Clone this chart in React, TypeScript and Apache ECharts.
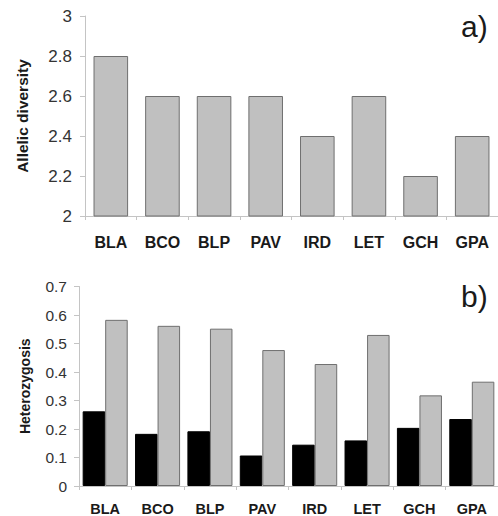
import React, { useEffect, useRef } from "react";
import * as echarts from "echarts";

const categories = ["BLA", "BCO", "BLP", "PAV", "IRD", "LET", "GCH", "GPA"];
const allelicDiversity = [2.8, 2.6, 2.6, 2.6, 2.4, 2.6, 2.2, 2.4];
const hetObserved = [0.262, 0.183, 0.192, 0.107, 0.145, 0.16, 0.204, 0.235];
const hetExpected = [0.583, 0.562, 0.552, 0.477, 0.428, 0.53, 0.318, 0.366];
const panelLabels = ["a)", "b)"];

const FONT = "Liberation Sans, Arial, sans-serif";
const AXIS_COLOR = "#c4c4c4";

export default function App() {
  const ref = useRef<HTMLDivElement>(null);
  useEffect(() => {
    if (!ref.current) return;
    const chart = echarts.init(ref.current, undefined, { renderer: "svg" });
    const axisLine = { show: true, lineStyle: { color: AXIS_COLOR, width: 1 } };
    const axisTick = { show: true, length: 5, lineStyle: { color: AXIS_COLOR } };
    chart.setOption({
      animation: false,
      backgroundColor: "#ffffff",
      textStyle: { fontFamily: FONT },
      grid: [
        { left: 85, top: 16, width: 419, height: 200 },
        { left: 79, top: 286.5, width: 419.5, height: 200 },
      ],
      xAxis: [
        {
          type: "category",
          gridIndex: 0,
          data: categories,
          axisLine,
          axisTick: { ...axisTick, length: 4 },
          axisLabel: { fontFamily: FONT, fontSize: 16, fontWeight: "bold", color: "#1a1a1a", margin: 18 },
        },
        {
          type: "category",
          gridIndex: 1,
          data: categories,
          axisLine,
          axisTick: { ...axisTick, length: 4 },
          axisLabel: { fontFamily: FONT, fontSize: 14.5, fontWeight: "bold", color: "#1a1a1a", margin: 15 },
        },
      ],
      yAxis: [
        {
          type: "value",
          gridIndex: 0,
          min: 2,
          max: 3,
          interval: 0.2,
          splitLine: { show: false },
          axisLine,
          axisTick,
          axisLabel: { fontFamily: FONT, fontSize: 17, color: "#333", margin: 13 },
          name: "Allelic diversity",
          nameLocation: "middle",
          nameGap: 55,
          nameTextStyle: { fontFamily: FONT, fontSize: 15.5, fontWeight: "bold", color: "#1a1a1a" },
        },
        {
          type: "value",
          gridIndex: 1,
          min: 0,
          max: 0.7,
          interval: 0.1,
          splitLine: { show: false },
          axisLine,
          axisTick,
          axisLabel: {
            fontFamily: FONT,
            fontSize: 15.5,
            color: "#333",
            margin: 12,
            formatter: (v: number) => (Math.round(v * 10) / 10).toString(),
          },
          name: "Heterozygosis",
          nameLocation: "middle",
          nameGap: 47,
          nameTextStyle: { fontFamily: FONT, fontSize: 14, fontWeight: "bold", color: "#1a1a1a" },
        },
      ],
      series: [
        {
          type: "bar",
          xAxisIndex: 0,
          yAxisIndex: 0,
          data: allelicDiversity,
          barWidth: "67%",
          itemStyle: { color: "#c0c0c0", borderColor: "#6f6f6f", borderWidth: 1 },
        },
        {
          type: "bar",
          xAxisIndex: 1,
          yAxisIndex: 1,
          data: hetObserved,
          barGap: "0%",
          barCategoryGap: "14%",
          itemStyle: { color: "#000000", borderColor: "#000000", borderWidth: 1 },
        },
        {
          type: "bar",
          xAxisIndex: 1,
          yAxisIndex: 1,
          data: hetExpected,
          barGap: "0%",
          barCategoryGap: "14%",
          itemStyle: { color: "#c0c0c0", borderColor: "#6f6f6f", borderWidth: 1 },
        },
      ],
      graphic: [
        {
          type: "text",
          left: 461,
          top: 11,
          style: { text: panelLabels[0], fontFamily: FONT, fontSize: 30, fill: "#1a1a1a" },
        },
        {
          type: "text",
          left: 461,
          top: 281,
          style: { text: panelLabels[1], fontFamily: FONT, fontSize: 30, fill: "#1a1a1a" },
        },
      ],
    });
    return () => chart.dispose();
  }, []);
  return (
    <div
      ref={ref}
      style={{ position: "fixed", left: 0, top: 0, width: 498, height: 516, background: "#fff" }}
    />
  );
}
